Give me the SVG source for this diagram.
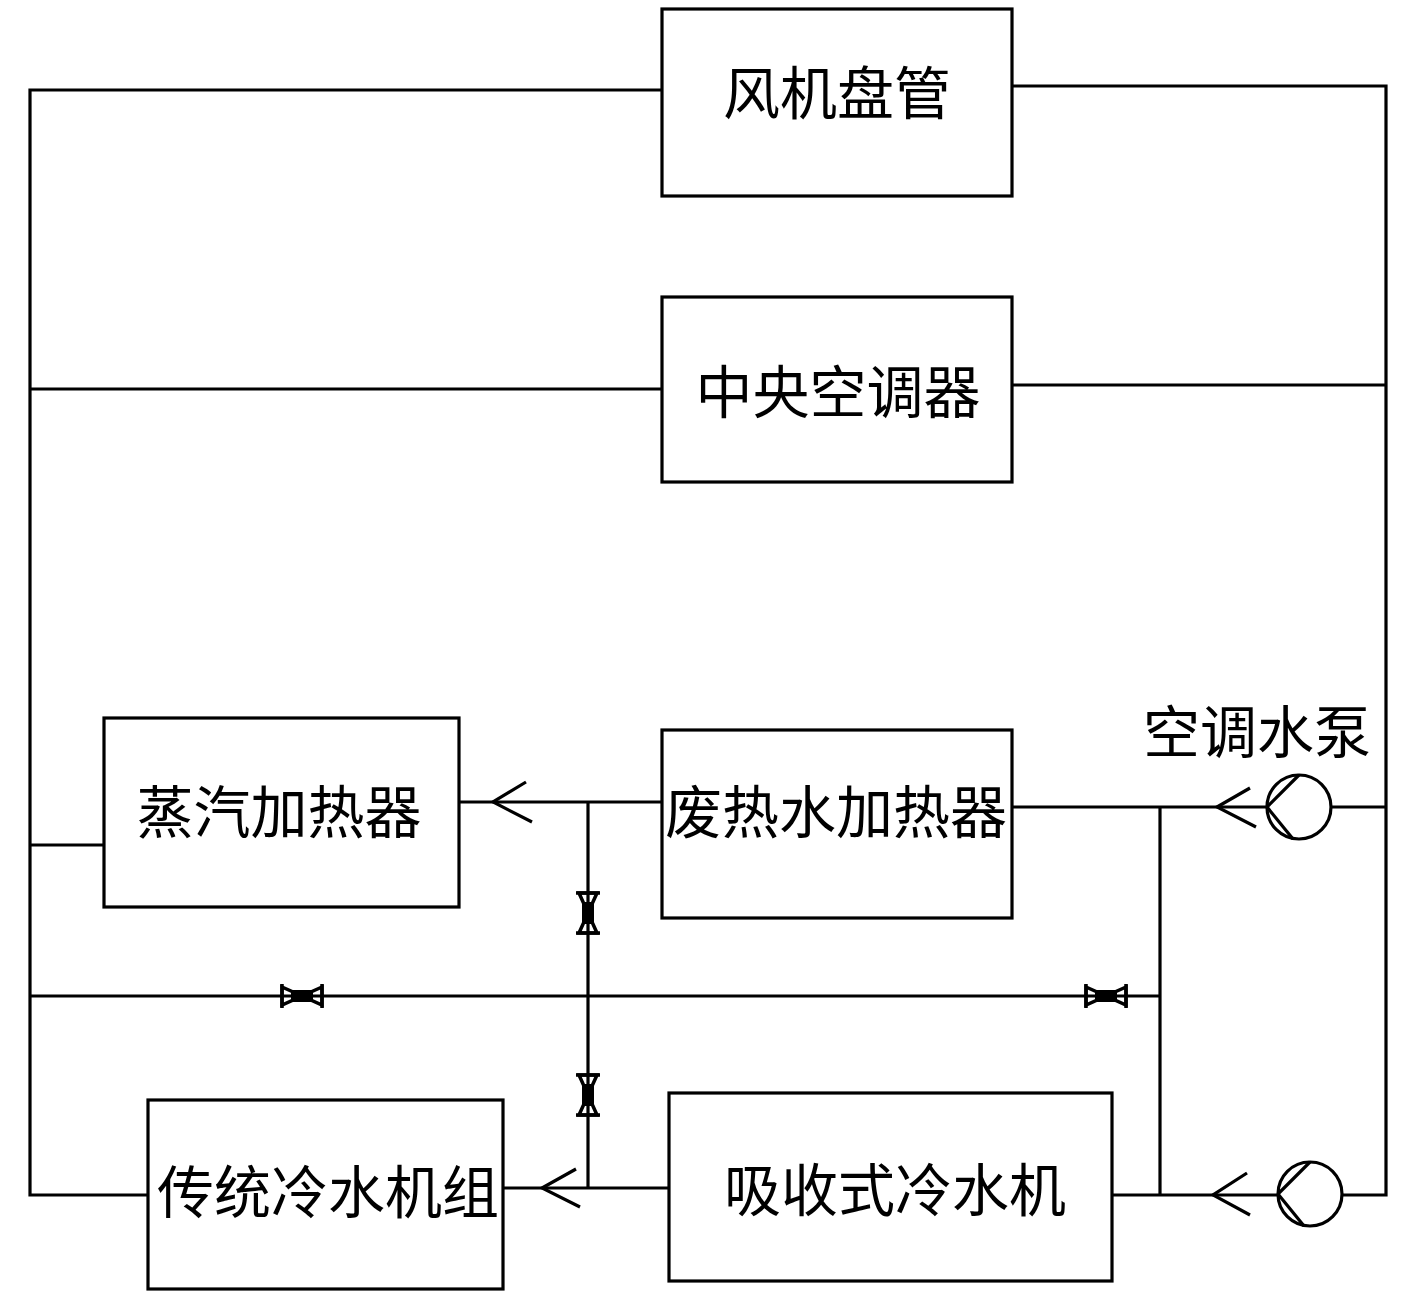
<svg xmlns="http://www.w3.org/2000/svg" xmlns:xlink="http://www.w3.org/1999/xlink" width="1417" height="1299" viewBox="0 0 1417 1299">
<style>
.box{fill:#fff;stroke:#000;stroke-width:3.2}
.ln{fill:none;stroke:#000;stroke-width:3.2}
.lbl{font-family:"Noto Sans CJK SC","Noto Sans CJK JP",sans-serif;font-size:57px;fill:#000;text-anchor:middle}
.arr{fill:none;stroke:#000;stroke-width:3.2}
</style>
<defs>
<g id="valve">
<line x1="-20" y1="-12" x2="-20" y2="12" stroke="#000" stroke-width="3.5"/>
<line x1="20" y1="-12" x2="20" y2="12" stroke="#000" stroke-width="3.5"/>
<polygon points="-20,-9 0,0 -20,9" fill="none" stroke="#000" stroke-width="3.5"/>
<polygon points="20,-9 0,0 20,9" fill="none" stroke="#000" stroke-width="3.5"/>
<rect x="-11" y="-6" width="22" height="12" fill="#000"/>
</g>
<g id="pump">
<circle cx="0" cy="0" r="32" fill="#fff" stroke="#000" stroke-width="3.2"/>
<line x1="-32" y1="0" x2="0" y2="-32" stroke="#000" stroke-width="3.2"/>
<line x1="-32" y1="0" x2="-6" y2="32" stroke="#000" stroke-width="3.2"/>
</g>
</defs>
<g id="connectors">
<polyline class="ln" points="662,90 30,90 30,1195 148,1195"/>
<polyline class="ln" points="1012,86 1386,86 1386,1195 1342,1195"/>
<line class="ln" x1="30" y1="389" x2="662" y2="389"/>
<line class="ln" x1="1012" y1="385" x2="1386" y2="385"/>
<line class="ln" x1="30" y1="845" x2="104" y2="845"/>
<line class="ln" x1="459" y1="802" x2="662" y2="802"/>
<polyline class="arr" points="526,782 493,802 532,822"/>
<line class="ln" x1="588" y1="802" x2="588" y2="1188"/>
<line class="ln" x1="503" y1="1188" x2="669" y2="1188"/>
<polyline class="arr" points="576,1169 542,1188 580,1207"/>
<line class="ln" x1="30" y1="996" x2="1160" y2="996"/>
<line class="ln" x1="1012" y1="807" x2="1386" y2="807"/>
<line class="ln" x1="1160" y1="807" x2="1160" y2="1195"/>
<line class="ln" x1="1112" y1="1195" x2="1278" y2="1195"/>
<polyline class="arr" points="1250,788 1217,807 1256,827"/>
<polyline class="arr" points="1247,1173 1213,1195 1250,1215"/>
<use xlink:href="#valve" transform="translate(302,996)"/>
<use xlink:href="#valve" transform="translate(1106,996)"/>
<use xlink:href="#valve" transform="translate(588,913) rotate(90)"/>
<use xlink:href="#valve" transform="translate(588,1095) rotate(90)"/>
<use xlink:href="#pump" transform="translate(1299,807)"/>
<use xlink:href="#pump" transform="translate(1310,1194)"/>
</g>
<g id="fan-coil">
<rect class="box" x="662" y="9" width="350" height="187"/>
<text class="lbl" x="837" y="114">风机盘管</text>
</g>
<g id="central-ac">
<rect class="box" x="662" y="297" width="350" height="185"/>
<text class="lbl" x="838" y="413">中央空调器</text>
</g>
<g id="steam-heater">
<rect class="box" x="104" y="718" width="355" height="189"/>
<text class="lbl" x="279" y="833">蒸汽加热器</text>
</g>
<g id="waste-heat-heater">
<rect class="box" x="662" y="730" width="350" height="188"/>
<text class="lbl" x="836" y="833">废热水加热器</text>
</g>
<g id="chiller">
<rect class="box" x="148" y="1100" width="355" height="189"/>
<text class="lbl" x="328" y="1213">传统冷水机组</text>
</g>
<g id="absorption-chiller">
<rect class="box" x="669" y="1093" width="443" height="188"/>
<text class="lbl" x="895" y="1211">吸收式冷水机</text>
</g>
<g id="pump-label">
<text class="lbl" x="1257" y="753">空调水泵</text>
</g>
</svg>
